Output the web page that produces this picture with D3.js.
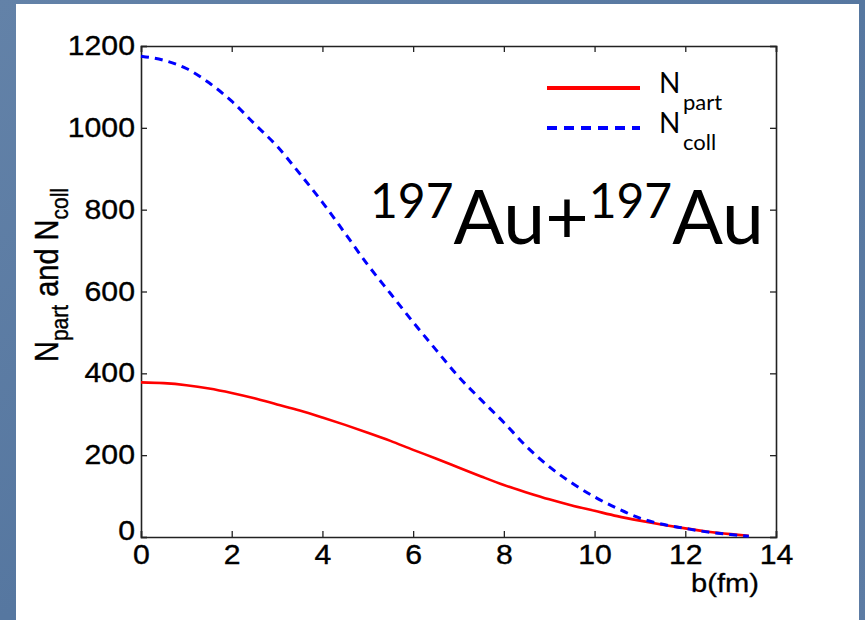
<!DOCTYPE html>
<html>
<head>
<meta charset="utf-8">
<script src="https://cdn.jsdelivr.net/npm/d3@7"></script>
<style>
  html, body { margin: 0; padding: 0; background: #5a7aa2; }
  svg { display: block; }
</style>
</head>
<body>
<script>
// Impact parameter b (fm) and Glauber estimates for Au+Au
const impactParam = [0, 0.5, 1, 1.5, 2, 2.5, 3, 3.5, 4, 4.5, 5, 5.5, 6, 6.5, 7, 7.5, 8, 8.5, 9, 9.5, 10, 10.5, 11, 11.5, 12, 12.5, 13, 13.4];
const nPart = [378, 376, 371, 363, 352, 339, 324, 309, 292, 274, 255, 235, 213, 192, 170, 148, 127, 109, 92, 77, 64, 51, 40, 30, 21, 13, 7, 3];
const nColl = [1175, 1165, 1145, 1110, 1065, 1010, 955, 888, 818, 742, 665, 595, 525, 458, 392, 335, 280, 221, 172, 132, 98, 70, 46, 31, 21, 12, 6, 2];
const xTicks = [0, 2, 4, 6, 8, 10, 12, 14];
const yTicks = [0, 200, 400, 600, 800, 1000, 1200];

const W = 865, H = 620;
const plot = { left: 141, right: 776, top: 46, bottom: 537 };
const sx = 1.12; // horizontal stretch of the figure's lettering

const svg = d3.select("body").append("svg").attr("width", W).attr("height", H);

// slide backdrop with a soft texture
const defs = svg.append("defs");
const grad = defs.append("linearGradient").attr("id", "slide").attr("x1", 0).attr("y1", 0).attr("x2", 1).attr("y2", 1);
grad.append("stop").attr("offset", "0%").attr("stop-color", "#6382a8");
grad.append("stop").attr("offset", "50%").attr("stop-color", "#5677a0");
grad.append("stop").attr("offset", "100%").attr("stop-color", "#5d7ca4");
svg.append("rect").attr("width", W).attr("height", H).attr("fill", "url(#slide)");

// white figure panel
svg.append("rect").attr("x", 16).attr("y", 4).attr("width", 843).attr("height", 620).attr("fill", "#ffffff");

const x = d3.scaleLinear().domain([0, 14]).range([plot.left, plot.right]);
const y = d3.scaleLinear().domain([0, 1200]).range([plot.bottom, plot.top]);

const axisColor = "#222";
const font = "'Liberation Sans', Arial, sans-serif";

// axes with inward ticks on all four sides
const gx = svg.append("g").attr("transform", `translate(0,${plot.bottom})`)
  .call(d3.axisBottom(x).tickValues(xTicks).tickSize(-6).tickPadding(8).tickFormat(d3.format("d")));
const gxTop = svg.append("g").attr("transform", `translate(0,${plot.top})`)
  .call(d3.axisTop(x).tickValues(xTicks).tickSize(-6).tickFormat(""));
const gy = svg.append("g").attr("transform", `translate(${plot.left},0)`)
  .call(d3.axisLeft(y).tickValues(yTicks).tickSize(-6).tickPadding(6).tickFormat(d3.format("d")));
const gyRight = svg.append("g").attr("transform", `translate(${plot.right},0)`)
  .call(d3.axisRight(y).tickValues(yTicks).tickSize(-6).tickFormat(""));

[gx, gxTop, gy, gyRight].forEach(g => {
  g.select(".domain").attr("stroke", axisColor).attr("stroke-width", 1.6);
  g.selectAll(".tick line").attr("stroke", axisColor).attr("stroke-width", 1.3);
});

gx.selectAll(".tick text")
  .attr("font-family", font).attr("font-size", 27).attr("fill", "#000")
  .attr("stroke", "#000").attr("stroke-width", 0.35)
  .attr("transform", `scale(${sx},1)`);
gy.selectAll(".tick text")
  .attr("font-family", font).attr("font-size", 27).attr("fill", "#000")
  .attr("stroke", "#000").attr("stroke-width", 0.35)
  .attr("x", -6 / sx)
  .attr("transform", `scale(${sx},1)`);
// the origin label sits a little lower on the y axis
gy.selectAll(".tick text").filter(d => d === 0).attr("dy", "0.1em");

// curves
const line = (vals) => d3.line()
  .x((d, i) => x(impactParam[i]))
  .y(d => y(d))
  .curve(d3.curveMonotoneX)(vals);

svg.append("path").attr("d", line(nPart))
  .attr("fill", "none").attr("stroke", "#ff0000").attr("stroke-width", 2.6);
svg.append("path").attr("d", line(nColl))
  .attr("fill", "none").attr("stroke", "#0000ff").attr("stroke-width", 3)
  .attr("stroke-dasharray", "8,6");

// axis titles
svg.append("text")
  .attr("font-family", font).attr("font-size", 26).attr("fill", "#000")
  .attr("stroke", "#000").attr("stroke-width", 0.3)
  .attr("text-anchor", "middle")
  .attr("transform", `translate(725,592) scale(${sx},1)`)
  .text("b(fm)");

const yl = svg.append("text")
  .attr("font-family", font).attr("font-size", 29).attr("fill", "#000")
  .attr("stroke", "#000").attr("stroke-width", 0.35)
  .attr("text-anchor", "middle")
  .attr("transform", `translate(58,275) scale(${sx},1) rotate(-90)`);
yl.append("tspan").text("N");
yl.append("tspan").attr("font-size", 21).attr("dy", 9).text("part");
yl.append("tspan").attr("dy", -9).text(" and N");
yl.append("tspan").attr("font-size", 21).attr("dy", 9).text("coll");

// legend
const legendFont = "Lato, 'Open Sans', sans-serif";
svg.append("line").attr("x1", 547).attr("x2", 640).attr("y1", 88).attr("y2", 88)
  .attr("stroke", "#ff0000").attr("stroke-width", 4);
svg.append("line").attr("x1", 547).attr("x2", 640).attr("y1", 128).attr("y2", 128)
  .attr("stroke", "#0000ff").attr("stroke-width", 4).attr("stroke-dasharray", "10,7");

const l1 = svg.append("text").attr("x", 659).attr("y", 93)
  .attr("font-family", legendFont).attr("font-size", 28).attr("fill", "#000");
l1.append("tspan").text("N");
l1.append("tspan").attr("x", 683).attr("y", 110).attr("font-size", 22).text("part");
const l2 = svg.append("text").attr("x", 659).attr("y", 133)
  .attr("font-family", legendFont).attr("font-size", 28).attr("fill", "#000");
l2.append("tspan").text("N");
l2.append("tspan").attr("x", 683).attr("y", 150).attr("font-size", 22).text("coll");

// collision system annotation
const sys = svg.append("text").attr("x", 370).attr("y", 244)
  .attr("font-family", legendFont).attr("font-size", 75).attr("fill", "#000");
sys.append("tspan").attr("font-size", 48).attr("dy", -26).text("197");
sys.append("tspan").attr("dy", 26).text("Au+");
sys.append("tspan").attr("font-size", 48).attr("dy", -26).text("197");
sys.append("tspan").attr("dy", 26).text("Au");
</script>
</body>
</html>
